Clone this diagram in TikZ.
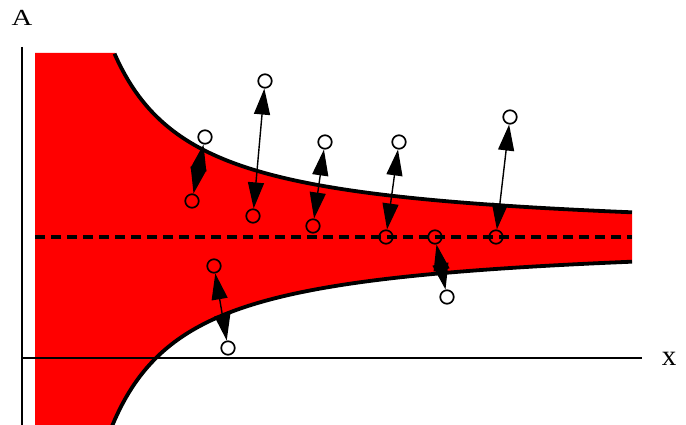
\documentclass[tikz,border=0pt]{standalone}
\usepackage{fontspec}
\usepackage{graphicx}
\setmainfont{Liberation Serif}
\usetikzlibrary{arrows.meta}
\begin{document}
\begin{tikzpicture}[x=1pt,y=-1pt,
  pt/.style={circle,draw,line width=1.7pt,minimum size=13.5pt,inner sep=0pt},
  dbl/.style={line width=1.4pt,{Triangle[length=26pt,width=16pt]}-{Triangle[length=26pt,width=16pt]}},
  edge/.style={line width=3.8pt},
  axis/.style={line width=1.6pt}]
\useasboundingbox (0,0) rectangle (686,425);
\begin{scope}
\clip (0,0) rectangle (686,425);
\fill[red] (35,53) -- (115,53)
  -- plot[domain=115:632,samples=150] (\x,{237-14760/(\x-34)})
  -- (632,262)
  -- plot[domain=632:108,samples=150] (\x,{237+14760/(\x-34)})
  -- (35,440) -- cycle;
\draw[axis] (22,47) -- (22,430);
\draw[axis] (22,358) -- (642,358);
\draw[line width=3.2pt,dash pattern=on 10pt off 6pt] (35,237) -- (632,237);
\draw[edge] plot[domain=114.5:632,samples=150] (\x,{237-14760/(\x-34)});
\draw[edge] plot[domain=632:108,samples=150] (\x,{237+14760/(\x-34)});
\end{scope}
\node[anchor=base] (lA) at (22,26) {\fontsize{23}{26}\selectfont\scalebox{1.25}[1]{A}};
\node[anchor=base] (lx) at (669,365) {\fontsize{29}{30}\selectfont x};
\node[pt] (a1) at (205,137) {};
\node[pt] (b1) at (192,201) {};
\node[pt] (a2) at (265,81) {};
\node[pt] (b2) at (253,216) {};
\node[pt] (a3) at (325,142) {};
\node[pt] (b3) at (313,226) {};
\node[pt] (a4) at (399,142) {};
\node[pt] (b4) at (386,237) {};
\node[pt] (a5) at (510,117) {};
\node[pt] (b5) at (496,237) {};
\node[pt] (a6) at (435,237) {};
\node[pt] (b6) at (447,297) {};
\node[pt] (a7) at (214,266) {};
\node[pt] (b7) at (228,348) {};
\foreach \i in {1,...,7} {\draw[dbl] (a\i) -- (b\i);}
\end{tikzpicture}
\end{document}
